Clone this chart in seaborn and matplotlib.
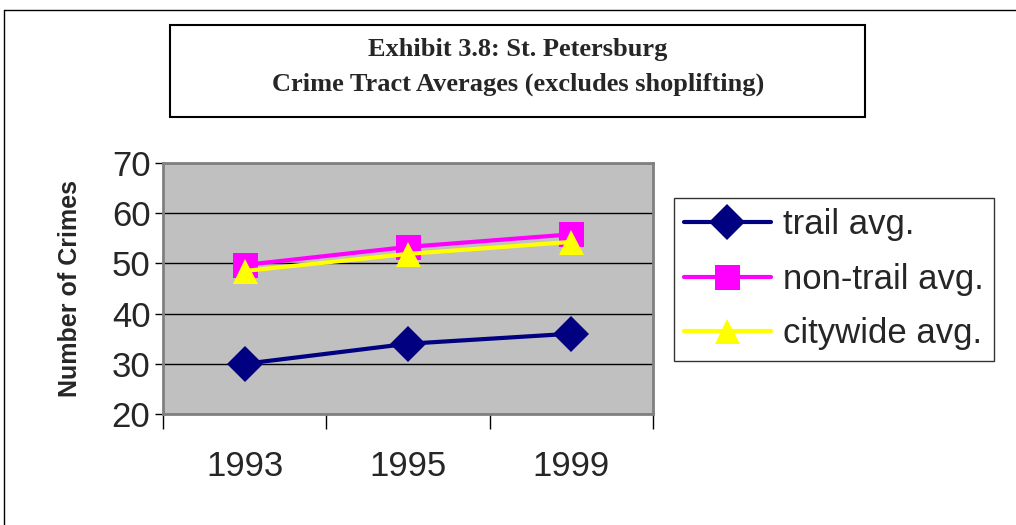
import pandas as pd
import numpy as np
import matplotlib
matplotlib.use("Agg")
import matplotlib.pyplot as plt
import seaborn as sns
from matplotlib.patches import Rectangle
from matplotlib.lines import Line2D

# Data
years = ["1993", "1995", "1999"]
trail_avg = [30, 34, 36]
non_trail_avg = [49.7, 53.3, 55.8]
citywide_avg = [48.5, 51.9, 54.3]
series_names = ["trail avg.", "non-trail avg.", "citywide avg."]

df = pd.DataFrame({
    "year": years * 3,
    "pos": list(range(len(years))) * 3,
    "crimes": trail_avg + non_trail_avg + citywide_avg,
    "series": [s for s in series_names for _ in years],
})

colors = {"trail avg.": "#000080", "non-trail avg.": "#FF00FF", "citywide avg.": "#FFFF00"}
markers = {"trail avg.": "D", "non-trail avg.": "s", "citywide avg.": "^"}

sns.set_style("white")
plt.rcParams["font.family"] = ["Liberation Sans", "DejaVu Sans"]

fig = plt.figure(figsize=(10.16, 5.25), dpi=100)
ax = fig.add_axes([0.1604, 0.2114, 0.4823, 0.478])

sns.lineplot(data=df, x="pos", y="crimes", hue="series", style="series",
             palette=colors, markers=markers, dashes=False, linewidth=3,
             markersize=18, markeredgewidth=0, ax=ax, legend=False)

ax.set_facecolor("#C0C0C0")
ax.set_ylim(20, 70)
ax.set_xlim(-0.5, 2.5)
ax.set_yticks(np.arange(20, 71, 10))
ax.set_yticklabels([str(v) for v in range(20, 71, 10)], fontsize=25)
ax.yaxis.grid(True, color="black", linewidth=1)
ax.set_axisbelow(True)

# category boundaries get the tick marks, centres get the labels
ax.set_xticks([-0.5, 0.5, 1.5, 2.5])
ax.set_xticklabels([])
ax.set_xticks([0, 1, 2], minor=True)
ax.set_xticklabels(years, minor=True, fontsize=25)
ax.tick_params(axis="x", which="major", bottom=True, direction="out",
               length=11, width=1, color="black")
ax.tick_params(axis="x", which="minor", bottom=True, length=0, pad=26)
ax.tick_params(axis="y", left=True, direction="out", length=6, width=1,
               color="black", pad=3)
ax.set_xlabel("")
ax.set_ylabel("Number of Crimes", fontsize=18, fontweight="bold")
ax.yaxis.set_label_coords(-0.166, 0.5)

for side in ["top", "right", "bottom", "left"]:
    ax.spines[side].set_visible(True)
    ax.spines[side].set_color("#808080")
    ax.spines[side].set_linewidth(2)

# legend
handles = [Line2D([0], [0], color=colors[s], marker=markers[s], linewidth=3,
                  markersize=18, markeredgewidth=0) for s in series_names]
leg = fig.legend(handles, series_names, loc="upper left",
                 bbox_to_anchor=(0.663, 0.623), fontsize=25, frameon=True,
                 fancybox=False, edgecolor="black", handlelength=2.5,
                 handletextpad=0.35, borderpad=0.3, labelspacing=0.62,
                 borderaxespad=0)
leg.get_frame().set_linewidth(1)

# title box
serif = ["Liberation Serif", "DejaVu Serif"]
fig.patches.append(Rectangle((0.167, 0.777), 0.684, 0.175, transform=fig.transFigure,
                             fill=False, edgecolor="black", linewidth=1.5))
fig.text(0.51, 0.905, "Exhibit 3.8: St. Petersburg", ha="center", va="center",
         fontsize=19, fontweight="bold", family=serif)
fig.text(0.51, 0.84, "Crime Tract Averages (excludes shoplifting)", ha="center",
         va="center", fontsize=19, fontweight="bold", family=serif)

# outer chart border (runs off the right and bottom edges)
fig.lines.append(Line2D([0.004, 1.0], [0.981, 0.981], transform=fig.transFigure,
                        color="black", linewidth=1))
fig.lines.append(Line2D([0.004, 0.004], [0.0, 0.981], transform=fig.transFigure,
                        color="black", linewidth=1))

fig.savefig("out.png", dpi=100)
